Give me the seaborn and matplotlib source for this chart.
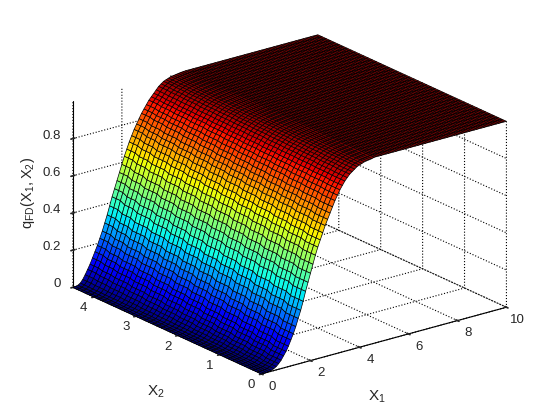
import numpy as np
import matplotlib
matplotlib.use('Agg')
import matplotlib.pyplot as plt
from mpl_toolkits.mplot3d import proj3d
import seaborn as sns

# sample positions of the surface mesh
x1_values = np.arange(0, 101) / 10
x2_values = np.arange(0, 46) / 10

# rise of q_FD along X1 (0 to 4.5 in steps of 0.1), in thousandths, read at twelve places along X2
q_rows = [
    [0,0,1,2,4,10,18,30,45,65,85,110,140,170,205,245,285,330,380,425,470,515,560,600,635,670,705,735,765,795,825,850,875,895,915,930,945,955,965,975,980,985,990,992,994,996],
    [0,0,1,3,6,14,23,36,53,74,95,121,151,182,217,258,298,343,392,436,481,526,570,609,644,678,712,742,771,801,830,854,878,898,917,932,947,957,966,976,981,986,990,992,994,996],
    [0,0,2,4,8,17,28,43,60,82,104,131,162,194,230,270,311,355,404,448,492,536,579,618,652,686,720,749,778,806,834,858,881,900,920,935,949,959,968,977,982,986,991,993,995,997],
    [0,0,2,5,11,21,34,49,68,91,114,142,173,205,242,283,325,368,415,459,503,547,589,627,661,695,727,755,784,812,839,862,885,903,922,937,950,960,969,978,983,987,991,993,995,997],
    [0,0,2,6,13,24,39,56,76,99,123,152,184,217,254,296,338,381,427,471,514,557,598,636,669,703,734,762,791,817,843,866,888,906,924,939,952,962,971,979,984,987,992,994,996,998],
    [0,0,2,7,15,28,44,62,84,108,133,163,195,229,267,309,351,394,439,482,525,568,608,646,678,711,742,769,797,823,848,870,891,909,927,942,954,964,972,980,985,988,992,994,996,998],
    [0,0,3,7,17,32,49,68,91,117,142,173,205,241,279,321,364,406,451,493,535,578,617,655,687,719,749,776,803,828,852,875,894,911,929,944,956,966,973,980,985,989,992,994,996,998],
    [0,0,3,8,19,35,54,75,99,125,152,184,216,253,291,334,377,419,463,505,546,589,627,664,695,727,756,783,810,834,857,879,897,914,931,946,958,968,975,981,986,989,993,995,997,998],
    [0,0,3,9,22,39,60,81,107,134,161,194,227,264,303,347,391,432,474,516,557,599,636,673,704,736,763,789,816,839,861,883,901,917,933,948,959,969,976,982,987,990,993,995,997,999],
    [0,0,3,10,24,42,65,88,114,142,171,205,238,276,316,359,404,444,486,528,568,610,646,682,712,744,771,796,823,845,866,887,904,919,936,951,961,971,978,983,988,990,994,996,998,999],
    [0,0,4,11,26,46,70,94,122,151,180,215,249,288,328,372,417,457,498,539,579,620,655,691,721,752,778,803,829,850,870,891,907,922,938,953,963,973,979,984,989,991,994,996,998,999],
    [0,1,4,12,28,50,75,100,130,160,190,225,260,300,340,385,430,470,510,550,590,630,665,700,730,760,785,810,835,855,875,895,910,925,940,955,965,975,980,985,990,992,994,996,998,999],
]
# how many mesh rows along X2 each reading covers
rows_per_reading = [4, 4, 4, 4, 4, 4, 4, 4, 4, 4, 3, 3]
# plateau for X1 from 4.6 to 10
q_plateau = [1000] * 55

x1_ticks = [0, 2, 4, 6, 8, 10]
x2_ticks = [0, 1, 2, 3, 4]
q_ticks = [0, 0.2, 0.4, 0.6, 0.8]
q_tick_labels = ['0', '0.2', '0.4', '0.6', '0.8']

sns.set_theme(style='white')
plt.rcParams['font.family'] = ['Liberation Sans', 'DejaVu Sans']
plt.rcParams['mathtext.fontset'] = 'custom'
plt.rcParams['mathtext.rm'] = 'Liberation Sans'
plt.rcParams['grid.color'] = 'black'
plt.rcParams['grid.linestyle'] = ':'
plt.rcParams['grid.linewidth'] = 0.8

q_table = np.repeat(np.array(q_rows), rows_per_reading, axis=0)
q_table = np.hstack([q_table, np.tile(q_plateau, (len(x2_values), 1))]) / 1000
X1, X2 = np.meshgrid(x1_values, x2_values)

fig = plt.figure(figsize=(5.6, 4.2), dpi=100)
ax = fig.add_axes([4 / 560, 0, 1, 1], projection='3d', proj_type='ortho')
ax.view_init(elev=20.7, azim=-127.6)
ax.set_box_aspect((1, 1, 0.643), zoom=1.11)

surf = ax.plot_surface(X1, X2, q_table, cmap='jet', vmin=0, vmax=1,
                       rstride=1, cstride=1, edgecolor='black', linewidth=0.5, antialiased=True, shade=False)
surf.set_clip_on(False)

ax.set_xlim(0, 10, view_margin=0)
ax.set_ylim(0, 4.5, view_margin=0)
ax.set_zlim(0, 1, view_margin=0)
ax.set_xticks(x1_ticks)
ax.set_yticks(x2_ticks)
ax.set_zticks(q_ticks)
ax.set_xticklabels([])
ax.set_yticklabels([])
ax.set_zticklabels([])

for axis in [ax.xaxis, ax.yaxis, ax.zaxis]:
    axis.set_pane_color((1, 1, 1, 0))
    axis.pane.set_edgecolor('none')
    axis.line.set_color('black')
    axis.line.set_linewidth(0.8)
    axis._axinfo['tick']['inward_factor'] = 0.1
    axis._axinfo['tick']['outward_factor'] = 0.1


def tick_text(x, y, z, label, ha='center'):
    # tick labels sit a little off the axes, as in the original
    a, b, _ = proj3d.proj_transform(x, y, z, ax.get_proj())
    ax.text2D(a, b, label, transform=ax.transData, fontsize=9.5, ha=ha, va='center')


for v in x1_ticks:
    tick_text(v, -0.26, -0.042, str(v))
for v in x2_ticks:
    tick_text(-0.41, v, -0.045, str(v))
for v, lab in zip(q_ticks, q_tick_labels):
    tick_text(0, 4.786, v - 0.014, lab, ha='right')

fig.text(377 / 560, 1 - 397 / 420, r'$\mathrm{X_1}$', fontsize=11, ha='center', va='center')
fig.text(156 / 560, 1 - 392 / 420, r'$\mathrm{X_2}$', fontsize=11, ha='center', va='center')
fig.text(28 / 560, 1 - 193 / 420, r'$\mathrm{q_{FD}(X_1,X_2)}$', fontsize=10.5, rotation=90, ha='center', va='center')

fig.savefig('out.png', dpi=100)
